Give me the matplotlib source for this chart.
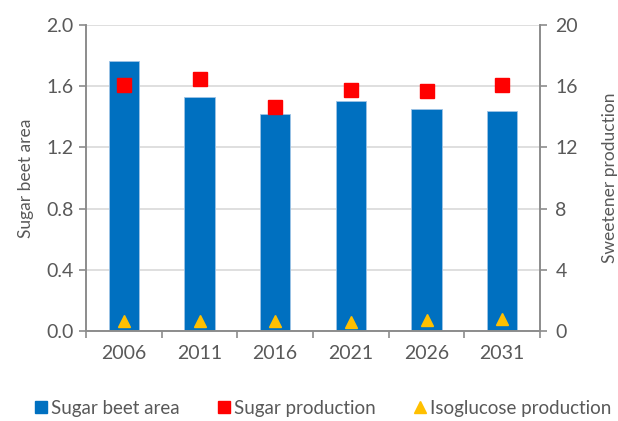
import matplotlib
matplotlib.use("Agg")
import matplotlib.pyplot as plt
from matplotlib.lines import Line2D
import numpy as np

years = ["2006", "2011", "2016", "2021", "2026", "2031"]
beet_area = [1.767, 1.531, 1.416, 1.503, 1.449, 1.440]
sugar_prod = [16.06, 16.45, 14.62, 15.73, 15.67, 16.06]
iso_prod = [0.67, 0.67, 0.67, 0.57, 0.70, 0.78]

plt.rcParams['font.family'] = ['Lato', 'DejaVu Sans']
txt = '#595959'
spine_c = '#8c8c8c'

fig = plt.figure(figsize=(6.18, 4.21), dpi=100)
ax = fig.add_axes([0.1392, 0.2138, 0.7346, 0.7268])
ax2 = ax.twinx()

x = np.arange(len(years))
ax.bar(x, beet_area, width=0.4, color='#0070C0', edgecolor='#9dc3e6', linewidth=0.6, zorder=2)
ax.set_ylim(0, 2.0)
ax.set_yticks(np.arange(0, 2.01, 0.4))
ax.set_yticklabels([f"{v:.1f}" for v in np.arange(0, 2.01, 0.4)])
ax.yaxis.grid(True, color='#d9d9d9', linewidth=1.2, zorder=0)
ax.set_axisbelow(True)
ax.set_xlim(-0.5, len(years) - 0.5)
ax.set_xticks(x)
ax.set_xticklabels(years)
ax.set_xticks(np.arange(-0.5, len(years), 1.0), minor=True)
ax.tick_params(axis='x', which='major', length=0, pad=10, labelsize=14, colors=txt)
ax.tick_params(axis='x', which='minor', length=5, color=spine_c, width=1.2)
ax.tick_params(axis='y', length=5, color=spine_c, width=1.2, labelsize=14, colors=txt, pad=4)
ax.set_ylabel("Sugar beet area", fontsize=12.5, color=txt, labelpad=9)

ax2.plot(x, sugar_prod, linestyle='none', marker='s', markersize=10, color='#FF0000', zorder=3)
ax2.plot(x, iso_prod, linestyle='none', marker='^', markersize=9, color='#FFC000', zorder=3)
ax2.set_ylim(0, 20)
ax2.set_yticks(np.arange(0, 21, 4))
ax2.tick_params(axis='y', length=5, color=spine_c, width=1.2, labelsize=14, colors=txt, pad=6)
ax2.set_ylabel("Sweetener production", fontsize=12.5, color=txt, labelpad=17)

for a in (ax, ax2):
    a.spines['top'].set_visible(False)
    for s in ('left', 'right', 'bottom'):
        a.spines[s].set_color(spine_c)
        a.spines[s].set_linewidth(1.2)

handles = [
    Line2D([], [], linestyle='none', marker='s', markersize=8, color='#0070C0'),
    Line2D([], [], linestyle='none', marker='s', markersize=8, color='#FF0000'),
    Line2D([], [], linestyle='none', marker='^', markersize=8, color='#FFC000'),
]
labels = ["Sugar beet area", "Sugar production", "Isoglucose production"]
leg = fig.legend(handles, labels, loc='lower center', bbox_to_anchor=(0.521, -0.03), ncol=3,
                 frameon=False, fontsize=13.5, handletextpad=0.1, columnspacing=1.9,
                 handlelength=0.9)
for t in leg.get_texts():
    t.set_color(txt)

fig.savefig("out.png", dpi=100)
